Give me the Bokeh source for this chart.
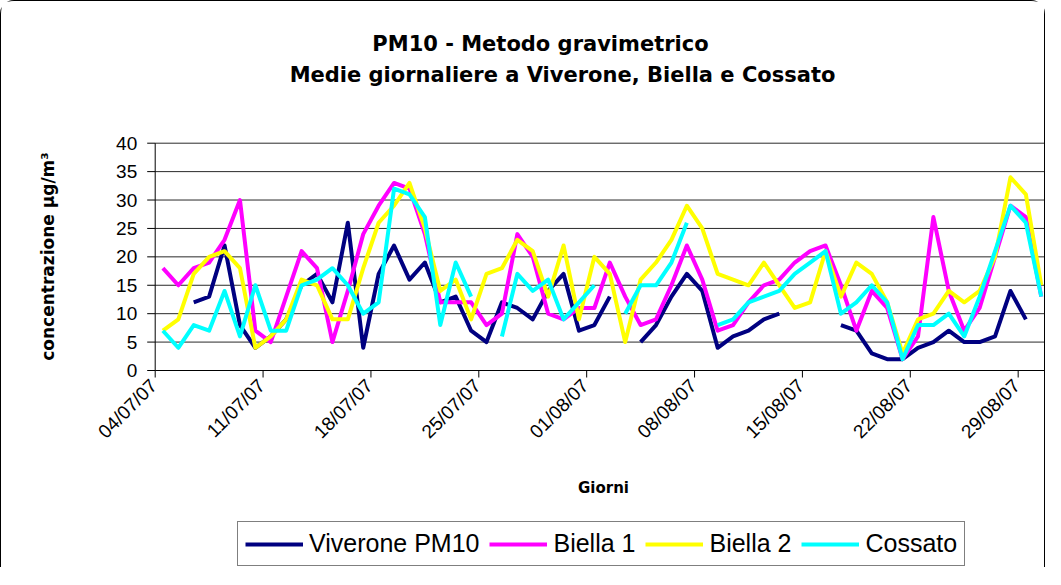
import numpy as np
import pandas as pd
from math import pi
from bokeh.plotting import figure
from bokeh.models import ColumnDataSource, Legend, LegendItem, Range1d, Label
from bokeh.core.properties import value
from bokeh.embed import file_html
from bokeh.resources import INLINE

# ---------------- data ----------------
start_date = "2007-07-04"
n_days = 58
tick_every_days = 7

viverone = [None, None, 12, 13, 22, 8, 4, 6, 9, 15,
            17, 12, 26, 4, 17, 22, 16, 19, 12, 13,
            7, 5, 12, 11, 9, 14, 17, 7, 8, 13,
            None, 5, 8, 13, 17, 14, 4, 6, 7, 9,
            10, None, None, None, 8, 7, 3, 2, 2, 4,
            5, 7, 5, 5, 6, 14, 9, None]

biella1 = [18, 15, 18, 19, 23, 30, 7, 5, 13, 21,
           18, 5, 14, 24, 29, 33, 32, 24, 12, 12,
           12, 8, 10, 24, 20, 10, 9, 11, 11, 19,
           13, 8, 9, 15, 22, 16, 7, 8, 12, 15,
           16, 19, 21, 22, 15, 7, 14, 11, 2, 6,
           27, 14, 7, 11, 20, 29, 27, 13]

biella2 = [7, 9, 17, 20, 21, 18, 4, 6, 9, 16,
           15, 9, 9, 18, 26, 29, 33, 25, 14, 16,
           9, 17, 18, 23, 21, 13, 22, 9, 20, 17,
           5, 16, 19, 23, 29, 25, 17, 16, 15, 19,
           15, 11, 12, 21, 13, 19, 17, 12, 3, 9,
           10, 14, 12, 14, 20, 34, 31, 15]

cossato = [7, 4, 8, 7, 14, 6, 15, 7, 7, 15,
           16, 18, 15, 10, 12, 32, 31, 27, 8, 19,
           13, None, 6, 17, 14, 16, 9, 12, 15, None,
           10, 15, 15, 19, 26, None, 8, 9, 12, 13,
           14, 17, 19, 21, 10, 12, 15, 12, 2, 8,
           8, 10, 6, 13, 21, 29, 26, 13]

series_names = ["Viverone PM10", "Biella 1", "Biella 2", "Cossato"]
series_colors = ["#000080", "#FF00FF", "#FFFF00", "#00FFFF"]
y_ticks = [0, 5, 10, 15, 20, 25, 30, 35, 40]
y_max = 40

title_line1 = "PM10 - Metodo gravimetrico"
title_line2 = "Medie giornaliere a Viverone, Biella e Cossato"
y_title = "concentrazione µg/m³"
x_title = "Giorni"

# ---------------- layout constants (pixels) ----------------
W, H = 1045, 567
PLOT_LEFT = 153.7      # canvas x of the value axis
PLOT_ZERO = 369.0      # canvas y of value 0
PX_DAY = 15.41
PX_UNIT = 5.6825

def arr(v):
    return np.array([np.nan if a is None else a for a in v], dtype=float)

dates = pd.date_range(start_date, periods=n_days, freq="D")
day_pos = (dates - dates[0]).days.values + 0.5      # each daily value sits mid-day
src = ColumnDataSource(dict(x=day_pos, v=arr(viverone), b1=arr(biella1),
                            b2=arr(biella2), c=arr(cossato)))

tick_dates = dates[::tick_every_days]
tick_pos = (tick_dates - dates[0]).days.values.astype(float)
tick_text = [d.strftime("%d/%m/%y") for d in tick_dates]

x_range = Range1d(-PLOT_LEFT / PX_DAY, (W - PLOT_LEFT) / PX_DAY)
y_range = Range1d(-(H - PLOT_ZERO) / PX_UNIT, PLOT_ZERO / PX_UNIT)

p = figure(width=W, height=H, x_range=x_range, y_range=y_range,
           output_backend="svg", toolbar_location=None,
           x_axis_location=None, y_axis_location=None, title_location=None,
           min_border=0, min_border_left=0, min_border_right=0,
           min_border_top=0, min_border_bottom=0,
           background_fill_color="white", border_fill_color="white")
p.outline_line_color = None
p.grid.grid_line_color = None
p.styles = {"border-left": "1px solid #000", "border-top": "1px solid #000",
            "border-right": "1px solid #000",
            "border-top-left-radius": "14px", "border-top-right-radius": "14px"}

# horizontal grid lines
gy = [t for t in y_ticks if t > 0]
p.segment(x0=[0] * len(gy), x1=[n_days] * len(gy), y0=gy, y1=gy,
          line_color="#2a2a2a", line_width=1)

# value axis: line, ticks, labels
p.segment(x0=[0], x1=[0], y0=[0], y1=[y_max], line_color="black", line_width=1)
p.segment(x0=[-8 / PX_DAY] * len(y_ticks), x1=[0] * len(y_ticks), y0=y_ticks, y1=y_ticks,
          line_color="black", line_width=1)
p.text(x=[-18 / PX_DAY] * len(y_ticks), y=y_ticks, text=[str(t) for t in y_ticks],
       text_align="right", text_baseline="middle", text_font=value("Liberation Sans"),
       text_font_size="19px", text_color="black")

# date axis: line, ticks, labels
p.segment(x0=[0], x1=[n_days], y0=[0], y1=[0], line_color="black", line_width=1)
p.segment(x0=tick_pos, x1=tick_pos, y0=[0] * len(tick_pos), y1=[-7 / PX_UNIT] * len(tick_pos),
          line_color="black", line_width=1)
p.text(x=tick_pos - 1.5 / PX_DAY, y=[-12 / PX_UNIT] * len(tick_pos), text=tick_text,
       angle=pi / 4, text_align="right", text_baseline="middle",
       text_font=value("Liberation Sans"), text_font_size="19px", text_color="black")

# series
keys = ["v", "b1", "b2", "c"]
renderers = []
for k, col in zip(keys, series_colors):
    r = p.line("x", k, source=src, line_color=col, line_width=4, line_join="round")
    renderers.append(r)

legend = Legend(items=[LegendItem(label=n, renderers=[r]) for n, r in zip(series_names, renderers)],
                orientation="horizontal", location=(236, 2),
                label_text_font="Liberation Sans", label_text_font_size="25px",
                label_text_color="black", glyph_width=58, glyph_height=28,
                label_standoff=6, spacing=10, padding=7, margin=0,
                border_line_color="black", border_line_width=1,
                background_fill_color="white", background_fill_alpha=1)
p.add_layout(legend, "center")

def lab(text, cx, cy, size, angle=0.0):
    # cx, cy: canvas pixel centre (from top-left)
    p.add_layout(Label(x=cx, y=H - cy, x_units="screen", y_units="screen", text=text,
                       text_font="DejaVu Sans", text_font_style="bold",
                       text_font_size=size, text_align="center",
                       text_baseline="middle", angle=angle, text_color="black"))

lab(title_line1, 539, 42, "21px")
lab(title_line2, 561, 73, "21px")
lab(y_title, 46, 255, "17px", angle=pi / 2)
lab(x_title, 602, 486, "15px")

open("out.html", "w").write(file_html(p, INLINE))
